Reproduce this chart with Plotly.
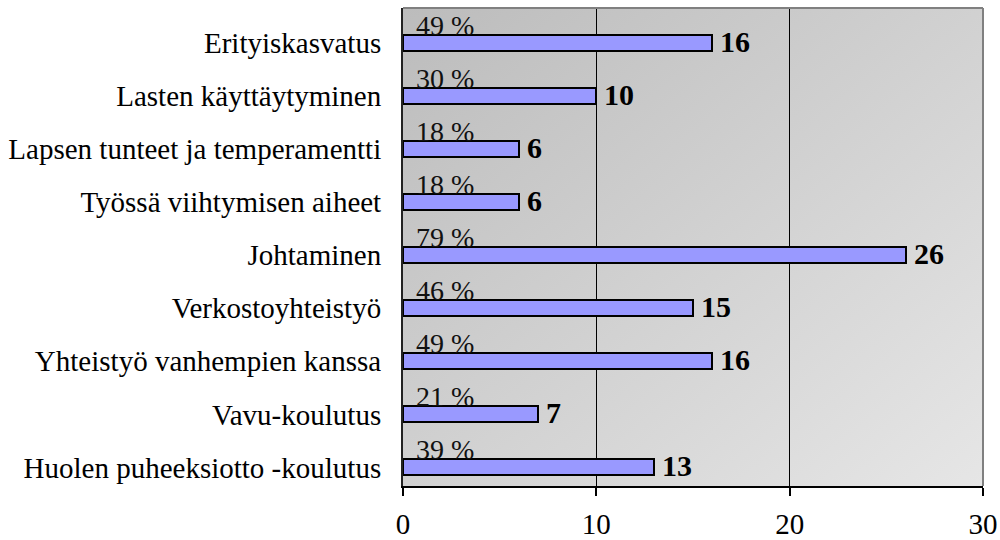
import base64
import plotly.graph_objects as go

# ---- data (top to bottom as shown) ----
categories = [
    "Erityiskasvatus",
    "Lasten käyttäytyminen",
    "Lapsen tunteet ja temperamentti",
    "Työssä viihtymisen aiheet",
    "Johtaminen",
    "Verkostoyhteistyö",
    "Yhteistyö vanhempien kanssa",
    "Vavu-koulutus",
    "Huolen puheeksiotto -koulutus",
]
counts = [16, 10, 6, 6, 26, 15, 16, 7, 13]
percents = [49, 30, 18, 18, 79, 46, 49, 21, 39]
x_ticks = [0, 10, 20, 30]

positions = list(range(len(categories)))
FONT = "Liberation Serif, Times New Roman, serif"

# gradient background for the plot area
svg = (
    '<svg xmlns="http://www.w3.org/2000/svg" width="580" height="478" '
    'viewBox="0 0 580 478" preserveAspectRatio="none">'
    '<defs><linearGradient id="g" x1="0" y1="0" x2="1" y2="1">'
    '<stop offset="0" stop-color="#bcbcbc"/>'
    '<stop offset="1" stop-color="#e6e6e6"/>'
    '</linearGradient></defs>'
    '<rect x="0" y="0" width="580" height="478" fill="url(#g)"/></svg>'
)
svg_uri = "data:image/svg+xml;base64," + base64.b64encode(svg.encode()).decode()

fig = go.Figure()
fig.add_trace(
    go.Bar(
        x=counts,
        y=positions,
        orientation="h",
        width=0.3,
        marker=dict(color="#9999FF", line=dict(color="black", width=2)),
        hoverinfo="skip",
        showlegend=False,
    )
)

annotations = []
for p, c, pc in zip(positions, counts, percents):
    annotations.append(
        dict(
            x=c, y=p, xref="x", yref="y",
            text=f"<b>{c}</b>", showarrow=False,
            xanchor="left", yanchor="middle", xshift=6, yshift=2,
            font=dict(family=FONT, size=30, color="black"),
        )
    )
    annotations.append(
        dict(
            x=0, y=p, xref="x", yref="y",
            text=f"{pc} %", showarrow=False,
            xanchor="left", yanchor="middle", xshift=11, yshift=18,
            font=dict(family=FONT, size=28, color="#111111"),
        )
    )

fig.update_layout(
    width=1000,
    height=540,
    margin=dict(l=403, r=17, t=8, b=54, autoexpand=False),
    paper_bgcolor="white",
    plot_bgcolor="rgba(0,0,0,0)",
    font=dict(family=FONT, size=28, color="black"),
    annotations=annotations,
    images=[
        dict(
            source=svg_uri, xref="paper", yref="paper",
            x=0, y=1, sizex=1, sizey=1, sizing="stretch",
            xanchor="left", yanchor="top", layer="below",
        )
    ],
    shapes=[
        dict(type="line", xref="paper", yref="paper", x0=0, x1=1, y0=1, y1=1,
             line=dict(color="#808080", width=2)),
        dict(type="line", xref="paper", yref="paper", x0=1, x1=1, y0=0, y1=1,
             line=dict(color="#808080", width=2)),
    ],
    xaxis=dict(
        range=[0, 30],
        tickvals=x_ticks,
        ticktext=[str(t) for t in x_ticks],
        showgrid=True, gridcolor="black", gridwidth=1,
        zeroline=False,
        showline=True, linecolor="black", linewidth=2,
        ticks="outside", ticklen=8, tickwidth=1.5, tickcolor="black",
        tickfont=dict(family=FONT, size=29, color="black"),
        ticklabelstandoff=3,
        automargin=False,
        fixedrange=True,
    ),
    yaxis=dict(
        range=[len(categories) - 1 + 0.35, -0.66],
        tickvals=positions,
        ticktext=categories,
        showgrid=False, zeroline=False,
        showline=True, linecolor="#222222", linewidth=2,
        ticks="", ticklabelstandoff=14,
        tickfont=dict(family=FONT, size=29, color="black"),
        automargin=False,
        fixedrange=True,
    ),
    bargap=0,
)

fig.write_html(
    "out.html",
    config={"displayModeBar": False},
    post_script="document.body.style.margin='0';",
)
